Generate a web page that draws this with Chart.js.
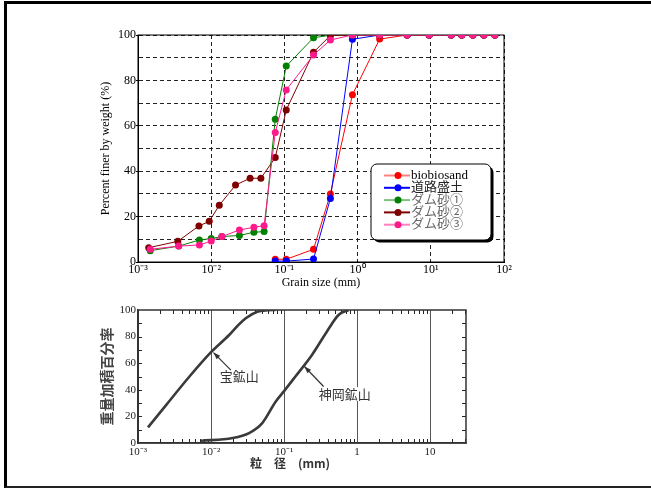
<!DOCTYPE html>
<html lang="ja">
<head>
<meta charset="utf-8">
<title>粒径加積曲線</title>
<script src="https://cdn.jsdelivr.net/npm/chart.js@4.4.1/dist/chart.umd.min.js"></script>
<style>
  html, body { margin: 0; padding: 0; background: #fff; }
  body { position: relative; width: 651px; height: 488px; overflow: hidden; }
  #frame { position: absolute; left: 4px; top: 1px; width: 700px; height: 482px;
           border-top: 3px solid #000; border-left: 3px solid #000; border-bottom: 2px solid #222; border-right: none; }
  canvas { position: absolute; left: 0; }
  #topChart { top: 0; }
  #bottomChart { top: 292px; }
</style>
</head>
<body>
<div id="frame"></div>
<canvas id="topChart" width="651" height="295"></canvas>
<canvas id="bottomChart" width="651" height="194"></canvas>
<script>
/* ── DATA: upper chart (grain size distribution, log x) ───── */
const seriesNames = ['biobiosand', '道路盛土', 'ダム砂①', 'ダム砂②', 'ダム砂③'];

// sieve openings (mm) shared by all samples
const sieveSizes = [0.075, 0.106, 0.25, 0.425, 0.85, 2, 4.75, 9.5, 19, 26.5, 37.5, 53, 75];
// hydrometer diameters (mm) of the dam sands
const fineSizesDam13 = [0.00147, 0.0036, 0.0069, 0.01, 0.014, 0.0243, 0.0383, 0.0528];
const fineSizesDam2 = [0.0014, 0.0035, 0.0068, 0.0094, 0.0129, 0.0215, 0.034, 0.0477];

const biobiosandPct = [1.2, 1.2, 5.6, 30, 73.7, 98.2, 100, 100, 100, 100, 100, 100, 100];
const roadFillPct = [0.4, 0.4, 1.3, 28, 98.1, 100, 100, 100, 100, 100, 100, 100, 100];
const dam1FinePct = [5, 7, 9.7, 10.3, 11.2, 11.7, 13.1, 13.4];
const dam1SievePct = [62.9, 86.3, 98.8, 99.9, 100, 100, 100, 100, 100, 100, 100, 100, 100];
const dam2FinePct = [6.3, 9.1, 15.9, 17.9, 25, 33.9, 36.9, 36.9];
const dam2SievePct = [46, 67, 92.4, 99.8, 100, 100, 100, 100, 100, 100, 100, 100, 100];
const dam3FinePct = [5.6, 7, 7.5, 9.2, 11.2, 14.1, 15.3, 16];
const dam3SievePct = [57.1, 75.8, 91.2, 97.8, 100, 100, 100, 100, 100, 100, 100, 100, 100];

const topXTicks = [0.001, 0.01, 0.1, 1, 10, 100];
const topXTickLabels = ['10⁻³', '10⁻²', '10⁻¹', '10⁰', '10¹', '10²'];

/* ── DATA: lower chart (scanned figure) ───────────────────── */
const takaraSize = [0.00137, 0.00244, 0.00507, 0.01, 0.0177, 0.023, 0.0299, 0.043, 0.06, 0.0766];
const takaraPct = [11.7, 28.7, 50, 68.3, 81.2, 88, 93.8, 98.7, 99.8, 100];
const kamiokaSize = [0.0073, 0.0197, 0.0332, 0.0503, 0.0766, 0.1, 0.143, 0.241, 0.385, 0.557, 0.762];
const kamiokaPct = [1.7, 3.7, 7.5, 15, 31, 39, 50, 66.2, 83.7, 96.2, 100];

const bottomXTicks = [0.001, 0.01, 0.1, 1, 10];
const bottomXTickLabels = ['10⁻³', '10⁻²', '10⁻¹', '1', '10'];

// callouts: label anchor, arrow tail, arrow tip (data units)
const bottomNotes = [
  { text: '宝鉱山', at: [0.0243, 50], from: [0.0187, 54.8], to: [0.0108, 68] },
  { text: '神岡鉱山', at: [0.676, 36.8], from: [0.348, 42.5], to: [0.19, 57.5] }
];

/* ── STYLES ───────────────────────────────────────────────── */
const lineColors = ['#ff0000', '#0000ff', '#008000', '#800000', '#ff1a8c'];
const legendLineColors = ['#ff8080', '#0000ff', '#80c080', '#800000', '#ff80c0'];
const legendTextColors = ['#000', '#222', '#666', '#666', '#666'];

Chart.defaults.font.family = "'Liberation Serif', 'Noto Sans CJK JP', serif";
Chart.defaults.color = '#000';

const pts = (xs, ys) => xs.map((x, i) => ({ x, y: ys[i] }));

/* ── PLUGINS ──────────────────────────────────────────────── */
const plotFrame = {
  id: 'plotFrame',
  beforeDatasetsDraw(chart) {
    const { ctx, chartArea: a } = chart;
    ctx.save();
    ctx.strokeStyle = '#000';
    ctx.lineWidth = 1;
    ctx.strokeRect(a.left, a.top, a.right - a.left, a.bottom - a.top);
    ctx.restore();
  }
};

const legendBox = {
  id: 'legendBox',
  afterDatasetsDraw(chart) {
    const { ctx, chartArea: a } = chart;
    const x = a.left + 233, y = a.top + 129, w = 120, h = 76;
    ctx.save();
    ctx.fillStyle = '#000';
    ctx.beginPath(); ctx.roundRect(x + 2.5, y + 2.5, w, h, 6); ctx.fill();
    ctx.fillStyle = '#fff';
    ctx.strokeStyle = '#000';
    ctx.lineWidth = 1;
    ctx.beginPath(); ctx.roundRect(x, y, w, h, 6); ctx.fill(); ctx.stroke();
    chart.data.datasets.forEach((ds, i) => {
      const ry = y + 11.5 + i * 12.3;
      ctx.strokeStyle = legendLineColors[i];
      ctx.lineWidth = 2;
      ctx.beginPath(); ctx.moveTo(x + 13, ry); ctx.lineTo(x + 39, ry); ctx.stroke();
      ctx.fillStyle = lineColors[i];
      ctx.beginPath(); ctx.arc(x + 27, ry, 3.5, 0, Math.PI * 2); ctx.fill();
      ctx.fillStyle = legendTextColors[i];
      ctx.font = "13px 'Liberation Serif', 'Noto Sans CJK JP'";
      ctx.textBaseline = 'middle';
      ctx.fillText(ds.label, x + 40, ry);
    });
    ctx.restore();
  }
};

const scanDecor = {
  id: 'scanDecor',
  beforeDatasetsDraw(chart) {
    const { ctx, chartArea: a, scales: { x, y } } = chart;
    ctx.save();
    ctx.strokeStyle = '#222';
    ctx.lineWidth = 1;
    ctx.beginPath();
    for (let e = -3; e <= 1; e++) {
      for (let m = 2; m <= 9; m++) {
        const v = m * Math.pow(10, e);
        if (v > x.max) break;
        const px = Math.round(x.getPixelForValue(v)) + 0.5;
        ctx.moveTo(px, a.bottom); ctx.lineTo(px, a.bottom - 4);
        ctx.moveTo(px, a.top); ctx.lineTo(px, a.top + 4);
      }
    }
    for (let v = 10; v < 100; v += 10) {
      const py = Math.round(y.getPixelForValue(v)) + 0.5;
      ctx.moveTo(a.left, py); ctx.lineTo(a.left + 4, py);
      ctx.moveTo(a.right, py); ctx.lineTo(a.right - 4, py);
    }
    ctx.stroke();
    ctx.lineWidth = 1.5;
    ctx.strokeStyle = '#333';
    ctx.strokeRect(a.left, a.top, a.right - a.left, a.bottom - a.top);
    ctx.restore();
  },
  afterDatasetsDraw(chart) {
    const { ctx, scales: { x, y } } = chart;
    ctx.save();
    ctx.font = "13px 'Noto Sans CJK JP'";
    ctx.textAlign = 'center';
    ctx.textBaseline = 'middle';
    bottomNotes.forEach(n => {
      const tx = x.getPixelForValue(n.at[0]), ty = y.getPixelForValue(n.at[1]);
      const w = ctx.measureText(n.text).width;
      ctx.fillStyle = '#fff';
      ctx.fillRect(tx - w / 2 - 2, ty - 7, w + 4, 14);
      ctx.fillStyle = '#333';
      ctx.fillText(n.text, tx, ty);
      // arrow
      const x0 = x.getPixelForValue(n.from[0]), y0 = y.getPixelForValue(n.from[1]);
      const x1 = x.getPixelForValue(n.to[0]), y1 = y.getPixelForValue(n.to[1]);
      const ang = Math.atan2(y1 - y0, x1 - x0);
      ctx.strokeStyle = '#333';
      ctx.lineWidth = 1.2;
      ctx.beginPath(); ctx.moveTo(x0, y0); ctx.lineTo(x1, y1); ctx.stroke();
      ctx.beginPath();
      ctx.moveTo(x1, y1);
      ctx.lineTo(x1 - 7 * Math.cos(ang) + 2.5 * Math.sin(ang), y1 - 7 * Math.sin(ang) - 2.5 * Math.cos(ang));
      ctx.lineTo(x1 - 7 * Math.cos(ang) - 2.5 * Math.sin(ang), y1 - 7 * Math.sin(ang) + 2.5 * Math.cos(ang));
      ctx.closePath();
      ctx.fill();
    });
    ctx.restore();
  }
};

/* ── UPPER CHART ──────────────────────────────────────────── */
const topSeries = [
  pts(sieveSizes, biobiosandPct),
  pts(sieveSizes, roadFillPct),
  pts(fineSizesDam13, dam1FinePct).concat(pts(sieveSizes, dam1SievePct)),
  pts(fineSizesDam2, dam2FinePct).concat(pts(sieveSizes, dam2SievePct)),
  pts(fineSizesDam13, dam3FinePct).concat(pts(sieveSizes, dam3SievePct))
];

new Chart(document.getElementById('topChart'), {
  type: 'line',
  data: {
    datasets: topSeries.map((data, i) => ({
      label: seriesNames[i],
      data,
      borderColor: lineColors[i],
      backgroundColor: lineColors[i],
      pointBackgroundColor: lineColors[i],
      pointBorderColor: lineColors[i],
      borderWidth: 1,
      pointRadius: 3.5,
      pointBorderWidth: 0,
      tension: 0,
      order: topSeries.length - i
    }))
  },
  options: {
    responsive: false,
    animation: false,
    layout: { padding: { left: 95, top: 35, right: 147, bottom: 3 } },
    plugins: { legend: { display: false }, tooltip: { enabled: false } },
    scales: {
      x: {
        type: 'logarithmic', min: 0.001, max: 100,
        afterFit: s => { s.height = 30; },
        afterBuildTicks: s => { s.ticks = topXTicks.map(value => ({ value })); },
        ticks: {
          autoSkip: false, maxRotation: 0, padding: 1, color: '#000',
          font: { size: 12 },
          callback: (v, i) => topXTickLabels[i]
        },
        grid: { color: '#222', lineWidth: 1, drawTicks: false },
        border: { color: '#000', width: 1, dash: [4, 3] },
        title: {
          display: true, text: 'Grain size (mm)', color: '#000',
          font: { size: 12 }, padding: { top: 0, bottom: 2 }
        }
      },
      y: {
        min: 0, max: 100,
        afterFit: s => { s.width = 43; },
        ticks: {
          stepSize: 10, padding: 0, color: '#000',
          font: { size: 12 },
          callback: v => (v % 20 === 0 ? v : '')
        },
        grid: {
          color: '#222', lineWidth: 1, tickLength: 2,
          tickColor: c => (c.tick && c.tick.value % 20 === 0 ? '#000' : 'rgba(0,0,0,0)')
        },
        border: { color: '#000', width: 1, dash: [4, 3] },
        title: {
          display: true, text: 'Percent finer by weight (%)', color: '#000',
          font: { size: 12 }, padding: { top: 4, bottom: 0 }
        }
      }
    }
  },
  plugins: [plotFrame, legendBox]
});

/* ── LOWER CHART (scanned figure) ─────────────────────────── */
new Chart(document.getElementById('bottomChart'), {
  type: 'line',
  data: {
    datasets: [
      { label: '宝鉱山', data: pts(takaraSize, takaraPct) },
      { label: '神岡鉱山', data: pts(kamiokaSize, kamiokaPct) }
    ].map(ds => Object.assign(ds, {
      borderColor: '#3a3a3a',
      borderWidth: 2.6,
      pointRadius: 0,
      cubicInterpolationMode: 'monotone',
      fill: false
    }))
  },
  options: {
    responsive: false,
    animation: false,
    layout: { padding: { left: 95, top: 18, right: 185, bottom: 3 } },
    plugins: { legend: { display: false }, tooltip: { enabled: false } },
    scales: {
      x: {
        type: 'logarithmic', min: 0.001, max: 31,
        afterFit: s => { s.height = 40; },
        afterBuildTicks: s => { s.ticks = bottomXTicks.map(value => ({ value })); },
        ticks: {
          autoSkip: false, maxRotation: 0, padding: 3, color: '#222',
          font: { size: 11 },
          callback: (v, i) => bottomXTickLabels[i]
        },
        grid: { color: '#555', lineWidth: 1, drawTicks: false },
        border: { color: '#333', width: 1.5 },
        title: {
          display: true, text: '粒　径　(mm)　　', color: '#333',
          font: { family: "'Noto Sans CJK JP'", size: 12, weight: 'bold' },
          padding: { top: 0, bottom: 12 }
        }
      },
      y: {
        min: 0, max: 100,
        afterFit: s => { s.width = 43; },
        ticks: {
          stepSize: 10, padding: 2, color: '#222',
          font: { size: 11 },
          callback: v => (v % 20 === 0 ? v : '')
        },
        grid: {
          color: c => (c.tick && c.tick.value === 50 ? '#555' : 'rgba(0,0,0,0)'),
          lineWidth: 1, drawTicks: false
        },
        border: { color: '#333', width: 1.5 },
        title: {
          display: true, text: '重量加積百分率', color: '#444',
          font: { family: "'Noto Sans CJK JP'", size: 14, weight: 'bold' },
          padding: { top: 3, bottom: 0 }
        }
      }
    }
  },
  plugins: [scanDecor]
});
</script>
</body>
</html>
